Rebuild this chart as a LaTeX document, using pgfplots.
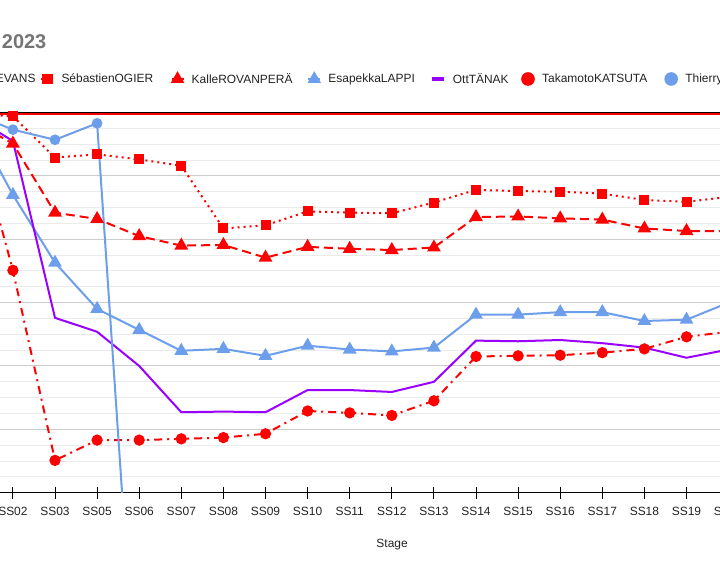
\documentclass[border=0pt]{standalone}
\usepackage{fontspec}
\setmainfont{Liberation Sans}
\usepackage{pgfplots}
\pgfplotsset{compat=1.18}
\definecolor{gred}{HTML}{FF0000}
\definecolor{gblue}{HTML}{6D9EEB}
\definecolor{gpurple}{HTML}{9900FF}
\definecolor{majgrid}{HTML}{CCCCCC}
\definecolor{mingrid}{HTML}{EBEBEB}
\definecolor{titlegray}{HTML}{757575}
\definecolor{labelgray}{HTML}{222222}
\pgfplotsset{
  legmark/.style={legend image code/.code={\path (-6bp,0bp) -- (6bp,0bp); \draw[##1] plot coordinates {(0bp,0bp)};}},
  legline/.style={legend image code/.code={\draw[##1] (-6bp,0bp) -- (6bp,0bp);}},
}
\begin{document}
\begin{tikzpicture}[x=1bp,y=1bp]
\useasboundingbox (0,0) rectangle (720,580);
\clip (0,0) rectangle (720,580);
\begin{axis}[
  scale only axis, width=799.9bp, height=386.5bp,
  at={(-50.25bp,87.3bp)}, anchor=south west,
  xmin=-0.5, xmax=18.5, ymin=-0.1, ymax=6, y dir=reverse,
  axis x line*=bottom, axis y line*=left,
  x axis line style={black, line width=1.2bp},
  y axis line style={draw=none},
  xtick={0,...,18},
  xticklabels={SS01,SS02,SS03,SS05,SS06,SS07,SS08,SS09,SS10,SS11,SS12,SS13,SS14,SS15,SS16,SS17,SS18,SS19,SS20},
  xtick style={black, line width=1bp},
  major tick length=12bp, tick align=center,
  xticklabel style={font=\fontsize{12}{14}\selectfont, text=labelgray, yshift=-4.5bp},
  ytick={1,...,5}, yticklabels={},
  minor ytick={0.25,0.5,...,5.8},
  ytick style={draw=none},
  ymajorgrids, yminorgrids,
  major grid style={majgrid, line width=1bp},
  minor grid style={mingrid, line width=1bp},
  extra y ticks={0}, extra y tick labels={},
  extra y tick style={major grid style={black, line width=1.2bp}, ytick style={draw=none}},
  xlabel={Stage},
  xlabel style={at={(axis description cs:0.553,0)}, anchor=base, yshift=-55bp, font=\fontsize{12}{14}\selectfont, text=labelgray},
  legend style={draw=none, fill=none, at={(axis description cs:-0.00456,1.0704)}, anchor=west,
    font=\fontsize{12}{14}\selectfont, text=labelgray, inner sep=0pt, outer sep=0pt,
    /tikz/every odd column/.style={column sep=7.2bp},
    /tikz/every even column/.style={column sep=14.8bp},
    nodes={inner sep=0pt}},
  legend columns=-1, legend cell align=left,
  every axis plot/.append style={line width=2bp},
]
% ElfynEVANS
\addplot[gred, solid, forget plot] coordinates {(0,0.03)(1,0.03)(2,0.03)(3,0.03)(4,0.03)(5,0.03)(6,0.03)(7,0.03)(8,0.03)(9,0.03)(10,0.03)(11,0.03)(12,0.03)(13,0.03)(14,0.03)(15,0.03)(16,0.03)(17,0.03)(18,0.03)};
% SebastienOGIER
\addplot[gred, dash pattern=on 2bp off 4bp, mark=square*, mark size=4bp, mark options={solid}, forget plot] coordinates {(0,0.02)(1,0.06)(2,0.71)(3,0.66)(4,0.74)(5,0.84)(6,1.83)(7,1.78)(8,1.56)(9,1.58)(10,1.59)(11,1.42)(12,1.22)(13,1.24)(14,1.25)(15,1.28)(16,1.38)(17,1.41)(18,1.33)};
% KalleROVANPERA
\addplot[gred, dash pattern=on 9bp off 5bp, mark=triangle*, mark size=6bp, mark options={solid}, forget plot] coordinates {(0,0.12)(1,0.49)(2,1.58)(3,1.68)(4,1.95)(5,2.10)(6,2.09)(7,2.29)(8,2.12)(9,2.15)(10,2.17)(11,2.13)(12,1.65)(13,1.64)(14,1.67)(15,1.69)(16,1.83)(17,1.87)(18,1.87)};
% EsapekkaLAPPI
\addplot[gblue, solid, mark=triangle*, mark size=6bp, forget plot] coordinates {(0,0.06)(1,1.30)(2,2.37)(3,3.10)(4,3.43)(5,3.76)(6,3.73)(7,3.84)(8,3.68)(9,3.74)(10,3.77)(11,3.71)(12,3.19)(13,3.19)(14,3.15)(15,3.15)(16,3.29)(17,3.27)(18,3.00)};
% OttTANAK
\addplot[gpurple, solid, forget plot] coordinates {(0,0.04)(1,0.45)(2,3.24)(3,3.46)(4,4.00)(5,4.73)(6,4.72)(7,4.73)(8,4.38)(9,4.38)(10,4.41)(11,4.25)(12,3.60)(13,3.61)(14,3.59)(15,3.64)(16,3.71)(17,3.87)(18,3.74)};
% TakamotoKATSUTA
\addplot[gred, dash pattern=on 8bp off 5bp on 2bp off 5bp, mark=*, mark size=4.6bp, mark options={solid}, forget plot] coordinates {(0,0.03)(1,2.49)(2,5.49)(3,5.17)(4,5.17)(5,5.15)(6,5.13)(7,5.07)(8,4.71)(9,4.74)(10,4.78)(11,4.55)(12,3.85)(13,3.84)(14,3.83)(15,3.79)(16,3.73)(17,3.54)(18,3.46)};
% ThierryNEUVILLE
\addplot[gblue, solid, mark=*, mark size=4.3bp, forget plot] coordinates {(0,0.00)(1,0.27)(2,0.43)(3,0.17)(4,10.0)};
% legend
\addlegendimage{gred, line width=4bp, legline}
\addlegendentry{ElfynEVANS\hspace*{-10bp}}
\addlegendimage{gred, mark=square*, mark size=4.2bp, legmark}
\addlegendentry{SébastienOGIER\hspace*{2.5bp}}
\addlegendimage{gred, mark=triangle*, mark size=5.8bp, legmark}
\addlegendentry{KalleROVANPERÄ}
\addlegendimage{gblue, mark=triangle*, mark size=5.8bp, legmark}
\addlegendentry{EsapekkaLAPPI}
\addlegendimage{gpurple, line width=4bp, legline}
\addlegendentry{OttTÄNAK\hspace*{-2.5bp}}
\addlegendimage{gred, mark=*, mark size=5.8bp, legmark}
\addlegendentry{TakamotoKATSUTA\hspace*{2bp}}
\addlegendimage{gblue, mark=*, mark size=5.8bp, legmark}
\addlegendentry{ThierryNEUVILLE}
\end{axis}
\node[anchor=base east, font=\bfseries\fontsize{20}{24}\selectfont, text=titlegray, inner sep=0pt] at (46.5,531.7) {Croatia Rally 2023};
\end{tikzpicture}
\end{document}
